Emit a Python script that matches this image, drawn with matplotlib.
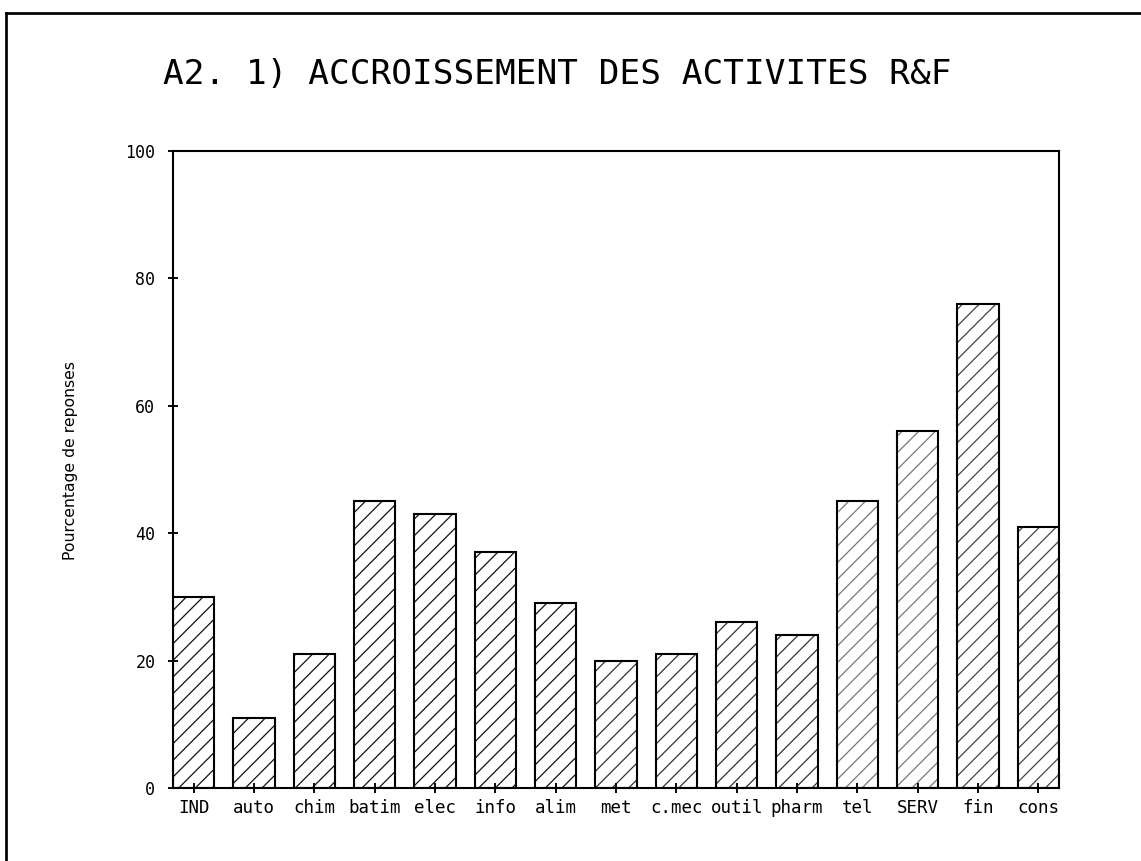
import matplotlib
matplotlib.use('Agg')
import matplotlib.pyplot as plt
from matplotlib.lines import Line2D

categories = ['IND', 'auto', 'chim', 'batim', 'elec', 'info', 'alim', 'met',
              'c.mec', 'outil', 'pharm', 'tel', 'SERV', 'fin', 'cons']
values = [30, 11, 21, 45, 43, 37, 29, 20, 21, 26, 24, 45, 56, 76, 41]
yticks = [0, 20, 40, 60, 80, 100]

title = 'A2. 1) ACCROISSEMENT DES ACTIVITES R&F'
ylabel = 'Pourcentage de reponses'

# scanned look: hatch gets fainter on the right hand bars
hatch_colors = ['#111111'] * 7 + ['#333333'] * 4 + ['#777777'] * 2 + ['#444444'] * 2

dpi = 150
W, H = 1141, 861
plt.rcParams['hatch.linewidth'] = 0.6

fig = plt.figure(figsize=(W / dpi, H / dpi), dpi=dpi)
ax = fig.add_axes([173 / W, 1 - 788 / H, (1059 - 173) / W, (788 - 151) / H])

bw = 0.687
xs = list(range(len(categories)))
ax.bar(xs, values, width=bw, color='white', edgecolor=hatch_colors,
       hatch='///', linewidth=0)
ax.bar(xs, values, width=bw, color='none', edgecolor='black', linewidth=1.0)

ax.set_xlim(-bw / 2, len(categories) - 1 + bw / 2)
ax.set_ylim(0, 100)
ax.set_xticks(xs)
ax.set_xticklabels(categories, family='DejaVu Sans Mono', fontsize=8.4)
ax.set_yticks(yticks)
ax.set_yticklabels([str(v) for v in yticks], family='DejaVu Sans Mono', fontsize=8)
ax.tick_params(axis='both', direction='inout', length=5, width=0.9, pad=3)
ax.tick_params(axis='y', pad=6)
for s in ax.spines.values():
    s.set_linewidth(1.0)

fig.text(70 / W, 1 - 460 / H, ylabel, rotation=90, ha='center', va='center',
         fontsize=7.5)

fig.text(163 / W, 1 - 75 / H, title, ha='left', va='center',
         family='DejaVu Sans Mono', fontsize=16.5)

# page frame (left and top edges only)
fig.add_artist(Line2D([6 / W, 6 / W], [0, 1 - 13 / H], transform=fig.transFigure,
                      color='black', linewidth=1.3))
fig.add_artist(Line2D([6 / W, 1], [1 - 13 / H, 1 - 13 / H], transform=fig.transFigure,
                      color='black', linewidth=1.3))

plt.savefig('out.png', dpi=dpi)
